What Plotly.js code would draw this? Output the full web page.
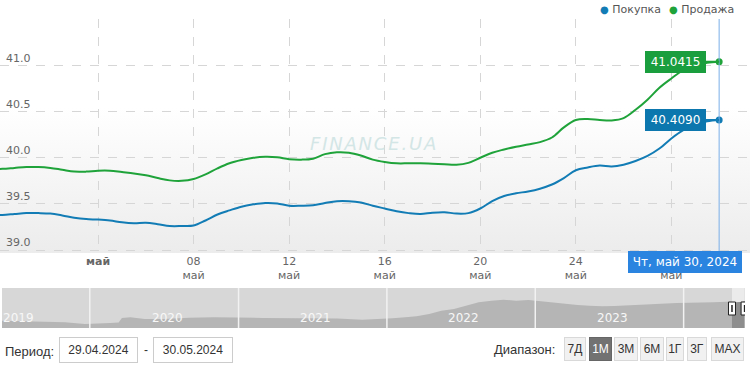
<!DOCTYPE html>
<html>
<head>
<meta charset="utf-8">
<script src="https://cdn.plot.ly/plotly-3.0.1.min.js"></script>
<style>
html,body{margin:0;padding:0;background:#fff;}
#wrap{position:relative;width:750px;height:372px;}
#grad{position:absolute;left:0;top:19px;width:750px;height:234px;
  background:linear-gradient(to bottom,#ffffff 0%,#ffffff 38%,#ececec 100%);}
#chart{position:absolute;left:0;top:0;width:750px;height:372px;}
</style>
</head>
<body>
<div id="wrap"><div id="grad"></div><div id="chart"></div></div>
<script>
// ---- data ----
var dates = [
 '2024-04-29 00:00','2024-04-29 12:00','2024-04-30 00:00','2024-04-30 12:00',
 '2024-05-01 00:00','2024-05-01 12:00','2024-05-02 00:00','2024-05-02 12:00',
 '2024-05-03 00:00','2024-05-03 12:00','2024-05-04 00:00','2024-05-04 12:00',
 '2024-05-05 00:00','2024-05-05 12:00','2024-05-06 00:00','2024-05-06 12:00',
 '2024-05-07 00:00','2024-05-07 12:00','2024-05-08 00:00','2024-05-08 12:00',
 '2024-05-09 00:00','2024-05-09 12:00','2024-05-10 00:00','2024-05-10 12:00',
 '2024-05-11 00:00','2024-05-11 12:00','2024-05-12 00:00','2024-05-12 12:00',
 '2024-05-13 00:00','2024-05-13 12:00','2024-05-14 00:00','2024-05-14 12:00',
 '2024-05-15 00:00','2024-05-15 12:00','2024-05-16 00:00','2024-05-16 12:00',
 '2024-05-17 00:00','2024-05-17 12:00','2024-05-18 00:00','2024-05-18 12:00',
 '2024-05-19 00:00','2024-05-19 12:00','2024-05-20 00:00','2024-05-20 12:00',
 '2024-05-21 00:00','2024-05-21 12:00','2024-05-22 00:00','2024-05-22 12:00',
 '2024-05-23 00:00','2024-05-23 12:00','2024-05-24 00:00','2024-05-24 12:00',
 '2024-05-25 00:00','2024-05-25 12:00','2024-05-26 00:00','2024-05-26 12:00',
 '2024-05-27 00:00','2024-05-27 12:00','2024-05-28 00:00','2024-05-28 12:00',
 '2024-05-29 00:00','2024-05-29 12:00','2024-05-30 00:00'
];
var sell = [ // Продажа
 39.87,39.875,39.88,39.89,39.90,39.90,39.89,39.87,39.85,39.85,39.86,39.86,
 39.845,39.83,39.81,39.78,39.755,39.75,39.77,39.82,39.885,39.94,39.975,40.00,
 40.01,40.005,39.985,39.98,39.99,40.04,40.06,40.055,40.025,39.98,39.955,39.94,
 39.94,39.94,39.935,39.93,39.925,39.945,40.00,40.055,40.09,40.12,40.145,40.17,
 40.22,40.33,40.41,40.42,40.41,40.405,40.43,40.52,40.63,40.76,40.86,40.95,
 41.00,41.03,41.0415
];
var buy = [ // Покупка
 39.37,39.375,39.38,39.39,39.40,39.40,39.395,39.375,39.35,39.335,39.33,39.32,
 39.30,39.29,39.295,39.28,39.26,39.26,39.265,39.32,39.385,39.43,39.47,39.495,
 39.51,39.505,39.48,39.48,39.485,39.51,39.53,39.53,39.515,39.48,39.45,39.42,
 39.40,39.39,39.405,39.41,39.395,39.40,39.45,39.53,39.585,39.615,39.635,39.665,
 39.71,39.78,39.865,39.895,39.915,39.905,39.925,39.965,40.02,40.10,40.21,40.30,
 40.36,40.395,40.409
];
var seriesNames = ['Покупка','Продажа'];
var xTickVals = ['2024-04-30','2024-05-04','2024-05-08','2024-05-12','2024-05-16','2024-05-20','2024-05-24','2024-05-28'];
var xTickText = ['','<b>май</b>','08<br>май','12<br>май','16<br>май','20<br>май','24<br>май','28<br>май'];
var yTickVals = [39.0,39.5,40.0,40.5,41.0,41.5];
var yTickText = ['39.0','39.5','40.0','40.5','41.0',''];

// navigator history
var navDates = ['2019-05-30','2019-07-01','2019-09-01','2019-11-01','2019-12-20','2020-01-15','2020-02-20','2020-03-12','2020-03-20','2020-04-10','2020-05-15','2020-07-01','2020-09-01','2020-11-01','2020-12-15','2021-01-15','2021-03-01','2021-06-01','2021-09-01','2021-11-01','2021-12-15','2022-01-15','2022-02-15','2022-03-15','2022-04-15','2022-05-15','2022-06-15','2022-07-15','2022-08-15','2022-09-15','2022-10-15','2022-11-15','2022-12-15','2023-01-15','2023-02-15','2023-03-15','2023-04-15','2023-05-15','2023-06-15','2023-07-15','2023-08-15','2023-09-15','2023-10-15','2023-11-15','2023-12-15','2024-01-15','2024-02-15','2024-03-15','2024-04-15','2024-04-29'];
var navValues = [25.8,25.6,25.0,24.5,23.3,23.8,24.0,24.3,27.9,28.4,27.1,27.1,28.1,28.4,28.4,28.4,27.9,27.6,27.5,26.6,27.1,27.6,28.4,29.2,31.0,33.5,34.8,37.4,40.0,41.2,42.0,41.2,41.8,40.8,39.7,38.7,37.9,37.4,36.9,37.1,37.7,38.2,38.7,39.2,39.5,39.7,39.7,40.0,40.5,40.3];
var yearStarts = ['2020-01-01','2021-01-01','2022-01-01','2023-01-01','2024-01-01'];
var yearLabels = ['2019','2020','2021','2022','2023'];
var yearLabelPos = ['2019-07-09','2020-07-09','2021-07-09','2022-07-09','2023-07-09'];
var selStart = '2024-04-29', selEnd = '2024-05-30';

var periodFrom = '29.04.2024', periodTo = '30.05.2024';
var rangeButtons = ['7Д','1М','3М','6М','1Г','3Г','MAX'];
var activeButton = '1М';

// ---- helpers ----
var W = 750, H = 372;
function py(p){ return (H - p) / H; }   // pixel y -> paper
function px(p){ return p / W; }         // pixel x -> paper

var BLUE = '#127cb5', GREEN = '#1fa33a';
var lastI = dates.length - 1;

var selIdx = [];
for (var i = 0; i < dates.length; i++) if (dates[i] >= selStart) selIdx.push(i);
var selDates = selIdx.map(function(i){return dates[i];});
var selVals = selIdx.map(function(i){return sell[i];});

var traces = [
 {x: navDates, y: navValues, xaxis:'x2', yaxis:'y2', type:'scatter', mode:'lines', fill:'tozeroy',
  fillcolor:'#b5b5b5', line:{width:0, color:'#b5b5b5'}, hoverinfo:'skip', showlegend:false},
 {x: selDates, y: selVals, xaxis:'x2', yaxis:'y2', type:'scatter', mode:'lines', fill:'tozeroy',
  fillcolor:'#8e8e8e', line:{width:0, color:'#8e8e8e'}, hoverinfo:'skip', showlegend:false},
 {x: dates, y: buy, name: seriesNames[0], type:'scatter', mode:'lines',
  line:{color:BLUE, width:2, shape:'spline', smoothing:1}},
 {x: dates, y: sell, name: seriesNames[1], type:'scatter', mode:'lines',
  line:{color:GREEN, width:2, shape:'spline', smoothing:1}},
 {x: [dates[lastI]], y: [buy[lastI]], type:'scatter', mode:'markers', marker:{color:BLUE, size:7}, showlegend:false},
 {x: [dates[lastI]], y: [sell[lastI]], type:'scatter', mode:'markers', marker:{color:GREEN, size:7}, showlegend:false}
];

var shapes = [
 // navigator background
 {type:'rect', xref:'paper', yref:'y2 domain', x0:px(2), x1:px(745), y0:0, y1:1, fillcolor:'#d7d7d7', line:{width:0}, layer:'below'},
 {type:'rect', xref:'x2', yref:'y2 domain', x0:selStart, x1:selEnd, y0:0, y1:1, fillcolor:'#ebebeb', line:{width:0}, layer:'below'},
 // cursor line
 {type:'line', xref:'x', yref:'paper', x0:dates[lastI], x1:dates[lastI], y0:py(252), y1:py(19), line:{color:'#7aaee8', width:1}}
];
yearStarts.forEach(function(d){
 shapes.push({type:'line', xref:'x2', yref:'y2 domain', x0:d, x1:d, y0:0, y1:1, line:{color:'#f2f2f2', width:1.5}});
});
[selStart, selEnd].forEach(function(d){
 shapes.push({type:'rect', xref:'x2', xsizemode:'pixel', xanchor:d, x0:-3.5, x1:3.5, yref:'paper', y0:py(315), y1:py(302),
   fillcolor:'#ffffff', line:{color:'#222', width:1}});
 shapes.push({type:'line', xref:'x2', xsizemode:'pixel', xanchor:d, x0:0, x1:0, yref:'paper', y0:py(312), y1:py(305),
   line:{color:'#222', width:1.5}});
});

function ann(o){ o.xanchor = o.xanchor || 'center'; o.yanchor = o.yanchor || 'middle'; if (o.showarrow === undefined) o.showarrow = false; return o; }

var hs = '\u200A';
var annotations = [
 // legend
 ann({xref:'paper', yref:'paper', x:px(663), y:py(10), xanchor:'right',
  text:'<span style="color:'+BLUE+';font-size:10px">●</span> '+seriesNames[0],
  font:{size:11, color:'#555', family:'DejaVu Sans'}}),
 ann({xref:'paper', yref:'paper', x:px(736), y:py(10), xanchor:'right',
  text:'<span style="color:'+GREEN+';font-size:10px">●</span> '+seriesNames[1],
  font:{size:11, color:'#555', family:'DejaVu Sans'}}),
 // watermark
 ann({xref:'paper', yref:'paper', x:px(373), y:py(143), text:'FINANCE.UA'.split('').join(hs),
  font:{size:18, color:'#d3e6e6', family:'DejaVu Sans', style:'italic'}}),
 // value flags
 ann({xref:'x', yref:'y', x:dates[lastI], y:sell[lastI], ax:-44, ay:0, showarrow:true, arrowhead:0, arrowwidth:2, arrowcolor:GREEN,
  text:sell[lastI].toFixed(4), bgcolor:'#1a9e3e', borderpad:3, borderwidth:0, width:55, height:16,
  font:{size:12, color:'#fff', family:'DejaVu Sans'}}),
 ann({xref:'x', yref:'y', x:dates[lastI], y:buy[lastI], ax:-44, ay:0, showarrow:true, arrowhead:0, arrowwidth:2, arrowcolor:BLUE,
  text:buy[lastI].toFixed(4), bgcolor:'#0c77ae', borderpad:3, borderwidth:0, width:55, height:16,
  font:{size:12, color:'#fff', family:'DejaVu Sans'}}),
 // date flag
 ann({xref:'x', yref:'paper', x:dates[lastI], xshift:-34.5, y:py(262), text:'Чт, май 30, 2024',
  bgcolor:'#2a84e0', borderpad:3, borderwidth:0, width:108, height:16, font:{size:12, color:'#fff', family:'DejaVu Sans'}}),
 // controls
 ann({xref:'paper', yref:'paper', x:px(3), y:py(351), xanchor:'left', text:'Период:',
  font:{size:13, color:'#333', family:'Liberation Sans'}}),
 ann({xref:'paper', yref:'paper', x:px(98.5), y:py(350), text:periodFrom, bgcolor:'#fff', bordercolor:'#cccccc',
  borderwidth:1, borderpad:0, width:77, height:24, font:{size:12, color:'#333', family:'Liberation Sans'}}),
 ann({xref:'paper', yref:'paper', x:px(146), y:py(350), text:'-', font:{size:12, color:'#333', family:'Liberation Sans'}}),
 ann({xref:'paper', yref:'paper', x:px(193), y:py(350), text:periodTo, bgcolor:'#fff', bordercolor:'#cccccc',
  borderwidth:1, borderpad:0, width:78, height:24, font:{size:12, color:'#333', family:'Liberation Sans'}}),
 ann({xref:'paper', yref:'paper', x:px(557), y:py(349), xanchor:'right', text:'Диапазон:',
  font:{size:13, color:'#333', family:'Liberation Sans'}})
];
var btnLeft = [564, 589, 614, 640, 666, 687, 711];
var btnRight = [586, 612, 638, 664, 684, 707, 744];
rangeButtons.forEach(function(b, i){
 var active = (b === activeButton);
 annotations.push(ann({xref:'paper', yref:'paper', x:px((btnLeft[i]+btnRight[i])/2), y:py(349), text:b,
  bgcolor: active ? '#727272' : '#f1f1f1', bordercolor: active ? '#666' : '#d9d9d9', borderwidth:1, borderpad:0,
  width: btnRight[i]-btnLeft[i]-2, height:22, font:{size:12, color: active ? '#fff' : '#333', family:'Liberation Sans'}}));
});
yearLabels.forEach(function(t, i){
 annotations.push(ann({xref:'x2', yref:'paper', x:yearLabelPos[i], y:py(318), text:t,
  font:{size:12, color:'#f7f7f7', family:'DejaVu Sans'}}));
});

var layout = {
 width: W, height: H,
 margin: {l:0, r:0, t:0, b:0, pad:0},
 paper_bgcolor:'rgba(0,0,0,0)', plot_bgcolor:'rgba(0,0,0,0)',
 font:{family:'DejaVu Sans', size:11, color:'#666'},
 showlegend:false,
 xaxis: {
  type:'date', domain:[0,1], range:['2024-04-29 21:29','2024-05-31 07:00'],
  tickmode:'array', tickvals:xTickVals, ticktext:xTickText,
  showgrid:true, gridcolor:'#d6d6d6', griddash:'dash', gridwidth:1,
  zeroline:false, showline:false, ticks:'', ticklabelstandoff:0,
  tickfont:{size:11, color:'#666'}, fixedrange:true
 },
 yaxis: {
  domain:[py(253), py(19)], range:[38.9675, 41.505],
  tickmode:'array', tickvals:yTickVals, ticktext:yTickText,
  ticklabelposition:'inside top', ticklabelstandoff:3,
  showgrid:true, gridcolor:'#d6d6d6', griddash:'dash', gridwidth:1,
  zeroline:false, showline:false, ticks:'', tickfont:{size:11, color:'#666'}, fixedrange:true
 },
 xaxis2: {
  type:'date', anchor:'y2', domain:[px(2), px(745)], range:['2019-05-30','2024-05-31'],
  showgrid:false, zeroline:false, showticklabels:false, ticks:'', showline:false, fixedrange:true
 },
 yaxis2: {
  anchor:'x2', domain:[py(328), py(288)], range:[20.14, 51.05],
  showgrid:false, zeroline:false, showticklabels:false, ticks:'', showline:false, fixedrange:true
 },
 shapes: shapes,
 annotations: annotations
};

Plotly.newPlot('chart', traces, layout, {staticPlot:true, displayModeBar:false});
</script>
</body>
</html>
